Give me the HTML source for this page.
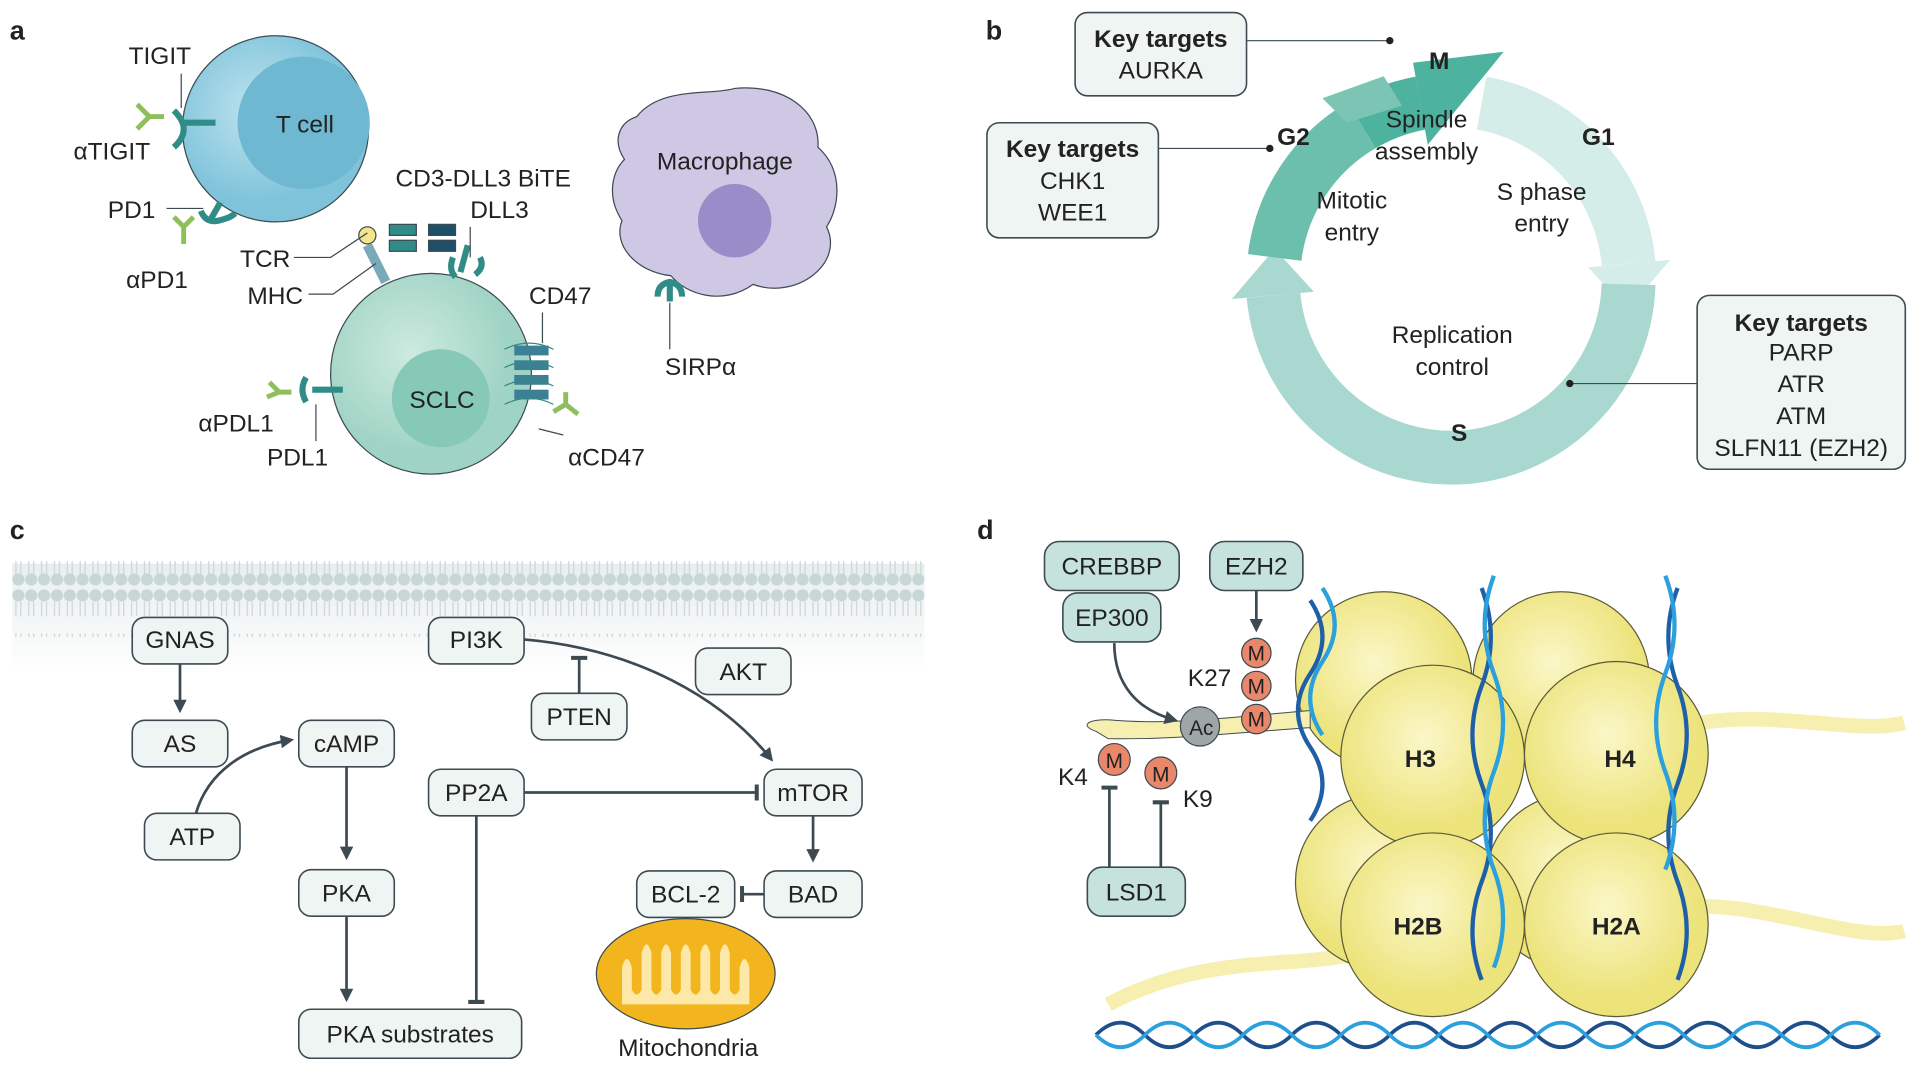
<!DOCTYPE html>
<html><head><meta charset="utf-8"><style>
html,body{margin:0;padding:0;background:#fff;}
svg{display:block;}
text{font-family:"Liberation Sans",sans-serif;fill:#222;}
</style></head><body>
<svg width="1920" height="1072" viewBox="0 0 1568 875" xmlns="http://www.w3.org/2000/svg">
<defs>
<marker id="ar" viewBox="0 0 10 10" refX="8" refY="5" markerWidth="5" markerHeight="5" orient="auto"><path d="M0,0L10,5L0,10z" fill="#3d4a52"/></marker>
<marker id="tb" viewBox="0 0 10 10" refX="5" refY="5" markerWidth="6" markerHeight="6" orient="auto"><path d="M5,0V10" stroke="#3d4a52" stroke-width="2.5"/></marker>
<radialGradient id="tc" cx="0.4" cy="0.4"><stop offset="0" stop-color="#bfe3ef"/><stop offset="1" stop-color="#7ec3da"/></radialGradient>
<radialGradient id="sc" cx="0.4" cy="0.4"><stop offset="0" stop-color="#cdeae0"/><stop offset="1" stop-color="#9fd3c3"/></radialGradient>
<radialGradient id="hy" cx="0.45" cy="0.4"><stop offset="0" stop-color="#fbf7c8"/><stop offset="1" stop-color="#ece37a"/></radialGradient>
<linearGradient id="mem" x1="0" y1="0" x2="0" y2="1"><stop offset="0" stop-color="#e8eeee"/><stop offset="1" stop-color="#fff"/></linearGradient>
<pattern id="lip" x="10" y="0" width="10.5" height="60" patternUnits="userSpaceOnUse">
<circle cx="5" cy="6" r="5" fill="#c9d7d4"/>
<path d="M3,11 v12 M7,11 v12 M3,37 v12 M7,37 v12" stroke="#c9d7d4" stroke-width="1"/>
<circle cx="5" cy="53" r="5" fill="#c9d7d4"/>
</pattern>
</defs>
<style>
.bx{fill:#eef5f3;stroke:#3d4a52;stroke-width:1.3;}
.bx2{fill:#c5e3dc;stroke:#3d4a52;stroke-width:1.3;}
.ln{stroke:#3d4a52;stroke-width:2.2;fill:none;}
.thin{stroke:#3d4a52;stroke-width:1;fill:none;}
.t{font-size:20px;}
.tm{font-size:20px;text-anchor:middle;}
.b{font-weight:bold;}
.ab{stroke:#8fbf5c;stroke-width:4;fill:none;}
</style>

<text x="8" y="32" font-size="22" class="b">a</text>
<text x="805" y="32" font-size="22" class="b">b</text>
<text x="8" y="440" font-size="22" class="b">c</text>
<text x="798" y="440" font-size="22" class="b">d</text>

<!-- Panel a -->
<circle cx="225" cy="105" r="76" fill="url(#tc)" stroke="#3d4a52" stroke-width="1"/>
<circle cx="248" cy="100" r="54" fill="#6fb8d2"/>
<text x="249" y="108" class="tm">T cell</text>
<circle cx="352" cy="305" r="82" fill="url(#sc)" stroke="#3d4a52" stroke-width="1"/>
<circle cx="360" cy="325" r="40" fill="#86c9b6"/>
<text x="361" y="333" class="tm">SCLC</text>
<path d="M520,95 C540,70 580,78 600,72 C640,68 670,90 668,120 C690,140 685,170 675,185 C690,215 650,245 615,232 C590,250 560,240 548,225 C520,222 500,200 508,180 C495,160 500,140 510,130 C500,115 505,100 520,95Z" fill="#cfc8e4" stroke="#3d4a52" stroke-width="1"/>
<circle cx="600" cy="180" r="30" fill="#9a8cc8"/>
<text x="592" y="138" class="tm">Macrophage</text>
<g fill="none" stroke="#2f8c86" stroke-width="5">
<path d="M150,100h26"/><path d="M142,90q8,8 8,15q0,8 -8,15"/>
<path d="M180,165l-8,14"/><path d="M164,172q4,10 14,8q10,-2 14,-6"/>
<path d="M255,318h25"/><path d="M250,308q-6,10 0,20"/>
<path d="M382,200l-6,22"/><path d="M370,210q-4,10 2,16M392,210q4,8 -4,14"/>
<path d="M547,228v18"/><path d="M537,242q0,-10 10,-12q10,2 10,12"/>
</g>
<g class="ab">
<path d="M122,95l-10,-10M122,95l-10,10M122,95h12"/>
<path d="M150,185l-8,-8M150,185l8,-8M150,185v14"/>
<path d="M228,320l-8,-8M228,320l-10,4M228,320l10,0"/>
<path d="M462,330l0,-10M462,330l-10,6M462,330l10,8"/>
</g>
<g fill="#3d7f94"><rect x="420" y="282" width="28" height="8"/><rect x="420" y="294" width="28" height="8"/><rect x="420" y="306" width="28" height="8"/><rect x="420" y="318" width="28" height="8"/></g>
<path d="M412,285q20,-10 40,0M412,300q20,-10 40,0M412,315q20,-10 40,0M412,330q20,-10 40,0" stroke="#2f8c86" stroke-width="1" fill="none"/>
<g fill="#2f8c86" stroke="#3d4a52"><rect x="318" y="183" width="22" height="9"/><rect x="318" y="196" width="22" height="9"/><rect x="350" y="183" width="22" height="9" fill="#1d4f6a"/><rect x="350" y="196" width="22" height="9" fill="#1d4f6a"/></g>
<circle cx="300" cy="192" r="7" fill="#f3e58a" stroke="#3d4a52"/>
<path d="M300,200l15,30" stroke="#7aa9b8" stroke-width="8"/>
<text x="105" y="52" class="t">TIGIT</text>
<text x="60" y="130" class="t">αTIGIT</text>
<text x="88" y="178" class="t">PD1</text>
<text x="103" y="235" class="t">αPD1</text>
<text x="323" y="152" class="t">CD3-DLL3 BiTE</text>
<text x="384" y="178" class="t">DLL3</text>
<text x="196" y="218" class="t">TCR</text>
<text x="202" y="248" class="t">MHC</text>
<text x="432" y="248" class="t">CD47</text>
<text x="162" y="352" class="t">αPDL1</text>
<text x="218" y="380" class="t">PDL1</text>
<text x="464" y="380" class="t">αCD47</text>
<text x="543" y="306" class="t">SIRPα</text>
<path class="thin" d="M148,60v28M136,170h30M240,210h30l30,-20M252,240h20l35,-25M384,185v25M547,247v38M443,255v25M258,330v30M440,350l20,5"/>

<!-- Panel b -->
<path d="M1210,84 A146,146 0 0 1 1330,215" fill="none" stroke="#d5ede8" stroke-width="44"/>
<path d="M1364,212 L1297,218 L1329,253z" fill="#d5ede8"/>
<path d="M1330,232 A146,146 0 0 1 1198,373 A146,146 0 0 1 1040,241" fill="none" stroke="#a8d8cf" stroke-width="44"/>
<path d="M1006,244 L1073,238 L1041,203z" fill="#a8d8cf"/>
<path d="M1041,210 A146,146 0 0 1 1112,102" fill="none" stroke="#6dbfad" stroke-width="44"/>
<path d="M1112,102 A146,146 0 0 1 1160,84" fill="none" stroke="#4db29e" stroke-width="44"/>
<path d="M1154,51 L1166,118 L1228,42z" fill="#4db29e"/>
<path d="M1080,80 L1130,62 L1145,86 L1100,100z" fill="#7cc4b4"/>
<text x="1167" y="56" font-size="20" class="b">M</text>
<text x="1043" y="118" font-size="20" class="b">G2</text>
<text x="1292" y="118" font-size="20" class="b">G1</text>
<text x="1185" y="360" font-size="20" class="b">S</text>
<text x="1165" y="104" class="tm">Spindle</text><text x="1165" y="130" class="tm">assembly</text>
<text x="1104" y="170" class="tm">Mitotic</text><text x="1104" y="196" class="tm">entry</text>
<text x="1259" y="163" class="tm">S phase</text><text x="1259" y="189" class="tm">entry</text>
<text x="1186" y="280" class="tm">Replication</text><text x="1186" y="306" class="tm">control</text>
<rect x="878" y="10" width="140" height="68" rx="10" class="bx"/>
<text x="948" y="38" class="tm b">Key targets</text><text x="948" y="64" class="tm">AURKA</text>
<rect x="806" y="100" width="140" height="94" rx="10" class="bx"/>
<text x="876" y="128" class="tm b">Key targets</text><text x="876" y="154" class="tm">CHK1</text><text x="876" y="180" class="tm">WEE1</text>
<rect x="1386" y="241" width="170" height="142" rx="10" class="bx"/>
<text x="1471" y="270" class="tm b">Key targets</text><text x="1471" y="294" class="tm">PARP</text><text x="1471" y="320" class="tm">ATR</text><text x="1471" y="346" class="tm">ATM</text><text x="1471" y="372" class="tm">SLFN11 (EZH2)</text>
<path class="thin" d="M1018,33H1135M946,121H1037M1282,313H1386"/>
<circle cx="1135" cy="33" r="3" fill="#222"/><circle cx="1037" cy="121" r="3" fill="#222"/><circle cx="1282" cy="313" r="3" fill="#222"/>

<!-- Panel c -->
<rect x="10" y="460" width="745" height="90" fill="url(#mem)"/>
<rect x="10" y="458" width="745" height="62" fill="url(#lip)"/>
<rect x="108" y="504" width="78" height="38" rx="10" class="bx"/><text x="147" y="529" class="tm">GNAS</text>
<rect x="108" y="588" width="78" height="38" rx="10" class="bx"/><text x="147" y="614" class="tm">AS</text>
<rect x="244" y="588" width="78" height="38" rx="10" class="bx"/><text x="283" y="614" class="tm">cAMP</text>
<rect x="118" y="664" width="78" height="38" rx="10" class="bx"/><text x="157" y="690" class="tm">ATP</text>
<rect x="244" y="710" width="78" height="38" rx="10" class="bx"/><text x="283" y="736" class="tm">PKA</text>
<rect x="244" y="824" width="182" height="40" rx="10" class="bx"/><text x="335" y="851" class="tm">PKA substrates</text>
<rect x="350" y="504" width="78" height="38" rx="10" class="bx"/><text x="389" y="529" class="tm">PI3K</text>
<rect x="434" y="566" width="78" height="38" rx="10" class="bx"/><text x="473" y="592" class="tm">PTEN</text>
<rect x="568" y="529" width="78" height="38" rx="10" class="bx"/><text x="607" y="555" class="tm">AKT</text>
<rect x="350" y="628" width="78" height="38" rx="10" class="bx"/><text x="389" y="654" class="tm">PP2A</text>
<rect x="624" y="628" width="80" height="38" rx="10" class="bx"/><text x="664" y="654" class="tm">mTOR</text>
<rect x="624" y="711" width="80" height="38" rx="10" class="bx"/><text x="664" y="737" class="tm">BAD</text>
<rect x="520" y="711" width="80" height="38" rx="10" class="bx"/><text x="560" y="737" class="tm">BCL-2</text>
<ellipse cx="560" cy="795" rx="73" ry="45" fill="#f2b51e" stroke="#3d4a52" stroke-width="1"/>
<path d="M507,770 h106 v50 h-106z" fill="#f2b51e"/>
<path d="M508,820 v-30 q4,-14 8,0 v18 q4,8 8,0 v-30 q4,-14 8,0 v30 q4,8 8,0 v-30 q4,-14 8,0 v30 q4,8 8,0 v-30 q4,-14 8,0 v30 q4,8 8,0 v-30 q4,-14 8,0 v30 q4,8 8,0 v-30 q4,-14 8,0 v30 q4,8 8,0 v-18 q4,-14 8,0 v30 z" fill="#fde8a8"/>
<text x="562" y="862" class="tm">Mitochondria</text>
<path class="ln" marker-end="url(#ar)" d="M147,542V580"/>
<path class="ln" marker-end="url(#ar)" d="M283,626V700"/>
<path class="ln" marker-end="url(#ar)" d="M283,748V816"/>
<path class="ln" marker-end="url(#ar)" d="M664,666V702"/>
<path class="ln" marker-end="url(#ar)" d="M160,664C170,630 200,610 238,604"/>
<path class="ln" marker-end="url(#ar)" d="M428,522C520,530 590,570 630,620"/>
<path class="ln" marker-end="url(#tb)" d="M473,566V537"/>
<path class="ln" marker-end="url(#tb)" d="M428,647H618"/>
<path class="ln" marker-end="url(#tb)" d="M389,666V818"/>
<path class="ln" marker-end="url(#tb)" d="M624,730H606"/>

<!-- Panel d -->
<path d="M905,820 C980,780 1050,790 1100,780" stroke="#f6efb0" stroke-width="12" fill="none"/>
<path d="M1390,590 C1450,580 1520,600 1555,590" stroke="#f6efb0" stroke-width="12" fill="none"/>
<path d="M1390,740 C1450,740 1520,770 1555,760" stroke="#f6efb0" stroke-width="12" fill="none"/>
<g stroke="#5a5a3a" stroke-width="1">
<circle cx="1130" cy="555" r="72" fill="url(#hy)"/><circle cx="1275" cy="555" r="72" fill="url(#hy)"/>
<circle cx="1130" cy="720" r="72" fill="url(#hy)"/><circle cx="1285" cy="720" r="72" fill="url(#hy)"/>
<circle cx="1170" cy="618" r="75" fill="url(#hy)"/><circle cx="1320" cy="615" r="75" fill="url(#hy)"/>
<circle cx="1170" cy="755" r="75" fill="url(#hy)"/><circle cx="1320" cy="755" r="75" fill="url(#hy)"/>
</g>
<path d="M895,597 C880,592 890,586 910,588 C960,592 1010,585 1070,580 L1070,594 C1010,598 960,604 905,603z" fill="#f6efb0" stroke="#3d4a52" stroke-width="0.8"/>
<text x="1160" y="626" font-size="22" class="tm b">H3</text>
<text x="1323" y="626" font-size="22" class="tm b">H4</text>
<text x="1158" y="763" font-size="22" class="tm b">H2B</text>
<text x="1320" y="763" font-size="22" class="tm b">H2A</text>
<path d="M1070,490 q20,30 0,60 q-20,30 0,60 q20,30 0,60 M1210,480 q15,40 0,80 q-15,40 0,80 q15,40 0,80 q-15,40 0,80 M1370,480 q-15,40 0,80 q15,40 0,80 q-15,40 0,80 q15,40 0,80" stroke="#1e5fa8" stroke-width="3.5" fill="none"/>
<path d="M1080,480 q20,30 0,60 q-20,30 0,60 M1220,470 q-15,40 0,80 q15,40 0,80 q-15,40 0,80 q15,40 0,80 M1360,470 q15,40 0,80 q-15,40 0,80 q15,40 0,80" stroke="#2ba0dc" stroke-width="3.5" fill="none"/>
<path d="M895,845 q20,-20 40,0 q20,20 40,0 q20,-20 40,0 q20,20 40,0 q20,-20 40,0 q20,20 40,0 q20,-20 40,0 q20,20 40,0 q20,-20 40,0 q20,20 40,0 q20,-20 40,0 q20,20 40,0 q20,-20 40,0 q20,20 40,0 q20,-20 40,0 q20,20 40,0" stroke="#1e4f8a" stroke-width="3" fill="none"/>
<path d="M895,845 q20,20 40,0 q20,-20 40,0 q20,20 40,0 q20,-20 40,0 q20,20 40,0 q20,-20 40,0 q20,20 40,0 q20,-20 40,0 q20,20 40,0 q20,-20 40,0 q20,20 40,0 q20,-20 40,0 q20,20 40,0 q20,-20 40,0 q20,20 40,0 q20,-20 40,0" stroke="#2ba0dc" stroke-width="3" fill="none"/>
<rect x="853" y="442" width="110" height="40" rx="12" class="bx2"/><text x="908" y="469" class="tm">CREBBP</text>
<rect x="868" y="484" width="80" height="40" rx="12" class="bx2"/><text x="908" y="511" class="tm">EP300</text>
<rect x="988" y="442" width="76" height="40" rx="12" class="bx2"/><text x="1026" y="469" class="tm">EZH2</text>
<rect x="888" y="708" width="80" height="40" rx="12" class="bx2"/><text x="928" y="735" class="tm">LSD1</text>
<path class="ln" marker-end="url(#ar)" d="M910,525C910,560 930,580 960,588"/>
<path class="ln" marker-end="url(#ar)" d="M1026,482V514"/>
<path class="ln" marker-end="url(#tb)" d="M906,708V643"/>
<path class="ln" marker-end="url(#tb)" d="M948,708V655"/>
<g stroke="#3d4a52" stroke-width="1"><circle cx="1026" cy="533" r="12" fill="#e9876a"/><circle cx="1026" cy="560" r="12" fill="#e9876a"/><circle cx="1026" cy="587" r="12" fill="#e9876a"/><circle cx="910" cy="620" r="13" fill="#e9876a"/><circle cx="948" cy="631" r="13" fill="#e9876a"/><circle cx="980" cy="593" r="16" fill="#9ea6a6"/></g>
<g font-size="17"><text x="1026" y="539" text-anchor="middle">M</text><text x="1026" y="566" text-anchor="middle">M</text><text x="1026" y="593" text-anchor="middle">M</text><text x="910" y="627" text-anchor="middle">M</text><text x="948" y="638" text-anchor="middle">M</text><text x="981" y="600" text-anchor="middle">Ac</text></g>
<text x="970" y="560" class="t">K27</text>
<text x="864" y="641" class="t">K4</text>
<text x="966" y="659" class="t">K9</text>
</svg>
</body></html>
